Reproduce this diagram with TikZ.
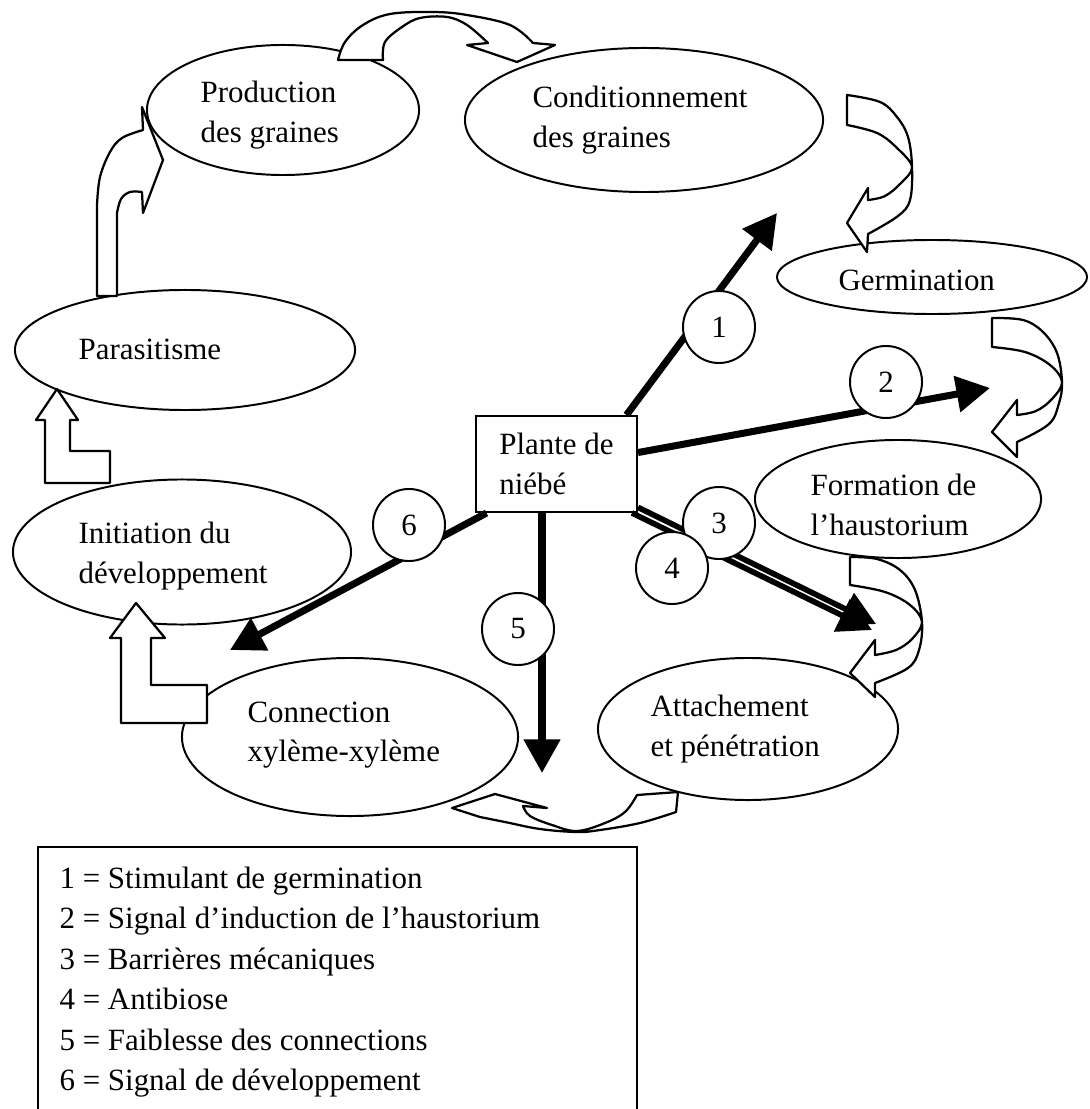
\documentclass[tikz,border=0pt]{standalone}
\usepackage{fontspec}
\setmainfont{Liberation Serif}
\usetikzlibrary{arrows.meta,shapes.geometric}

\tikzset{
  stage/.style={draw,ellipse,line width=0.7pt,inner sep=0pt},
  stagetxt/.style={anchor=west,align=left,inner sep=0pt,font=\fontsize{11}{14}\selectfont},
  numcirc/.style={draw,circle,fill=white,line width=0.7pt,minimum size=0.9cm,inner sep=0pt,font=\fontsize{11}{14}\selectfont},
  signal/.style={-{Triangle[length=0.42cm,width=0.44cm]},line width=2.5pt},
  cyclearrow/.style={draw,fill=white,line width=0.8pt,line join=round}
}

\begin{document}
\begin{tikzpicture}[x=0.0125cm,y=-0.0125cm]
  \useasboundingbox (0,0) rectangle (1089,1109);

  % stages of the life cycle
  \node[stage,minimum width=3.4cm,minimum height=1.625cm] (prod) at (283,110) {};
  \node[stage,minimum width=4.475cm,minimum height=1.8cm] (cond) at (644,120) {};
  \node[stage,minimum width=3.875cm,minimum height=0.925cm] (germ) at (932,277) {};
  \node[stage,minimum width=3.575cm,minimum height=1.475cm] (form) at (898,499) {};
  \node[stage,minimum width=3.75cm,minimum height=1.775cm] (att) at (748,729) {};
  \node[stage,minimum width=4.2cm,minimum height=1.975cm] (conn) at (350,737) {};
  \node[stage,minimum width=4.225cm,minimum height=1.8125cm] (init) at (182,552) {};
  \node[stage,minimum width=4.25cm,minimum height=1.5cm] (para) at (185,350) {};

  \node[stagetxt] (prodtxt) at (200,115) {Production\\des graines};
  \node[stagetxt] (condtxt) at (532,120) {Conditionnement\\des graines};
  \node[stagetxt] (germtxt) at (838,280) {Germination};
  \node[stagetxt] (formtxt) at (810,505) {Formation de\\l’haustorium};
  \node[stagetxt] (atttxt) at (650,729) {Attachement\\et pénétration};
  \node[stagetxt] (conntxt) at (247,735) {Connection\\xylème-xylème};
  \node[stagetxt] (inittxt) at (78,556) {Initiation du\\développement};
  \node[stagetxt] (paratxt) at (78,349) {Parasitisme};

  % cowpea plant and its signals
  \node[draw,line width=0.7pt,minimum width=2.0125cm,minimum height=1.2cm,align=left,
        font=\fontsize{11}{14}\selectfont] (plant) at (556.5,464) {Plante de\\niébé};
  \coordinate (t1) at (777,213);
  \coordinate (t2) at (990,388);
  \coordinate (t3) at (876,624);
  \coordinate (t4) at (872,630);
  \coordinate (t5) at (542,773);
  \coordinate (t6) at (230,650);
  \draw[signal] (plant.35) -- (t1);
  \draw[signal] (plant.8) -- (t2);
  \draw[signal,line width=2pt] (plant.-28) -- (t3);
  \draw[signal,line width=2pt] (plant.-33) -- (t4);
  \draw[signal] (plant.south -| t5) -- (t5);
  \draw[signal] (plant.215) -- (t6);

  \node[numcirc] (n1) at (719,327) {1};
  \node[numcirc] (n2) at (886,382) {2};
  \node[numcirc] (n3) at (719,523) {3};
  \node[numcirc] (n4) at (672,568) {4};
  \node[numcirc] (n5) at (518,629) {5};
  \node[numcirc] (n6) at (409,525) {6};

  % block arrows of the cycle
  \draw[cyclearrow] plot[smooth,tension=0.6] coordinates {(338,60) (345,42) (363,25) (390,14) (433,12) (467,15) (510,25) (533,43)}
    -- (555,45) -- (517,62) -- (467,45) -- (488,43)
    -- plot[smooth,tension=0.6] coordinates {(488,43) (467,25) (447,17) (420,18) (402,27) (385,42) (383,60)} -- cycle;
  \draw[cyclearrow] plot[smooth,tension=0.6] coordinates {(847,95) (880,102) (897,117) (908,137) (912,167) (910,200) (898,216) (868,234)}
    -- (867,252) -- (847,223) -- (868,188) -- (868,200)
    -- plot[smooth,tension=0.6] coordinates {(868,200) (885,196) (901,183) (912,167) (897,148) (877,133) (847,125)} -- cycle;
  \draw[cyclearrow] plot[smooth,tension=0.6] coordinates {(992,318) (1023,320) (1043,332) (1057,353) (1062,382) (1059,403) (1049,424) (1017,442)}
    -- (1017,457) -- (992,432) -- (1017,400) -- (1017,415)
    -- plot[smooth,tension=0.6] coordinates {(1017,415) (1036,411) (1052,399) (1062,382) (1050,365) (1025,352) (992,347)} -- cycle;
  \draw[cyclearrow] plot[smooth,tension=0.6] coordinates {(850,557) (877,559) (900,570) (915,590) (922,622) (919,650) (908,668) (875,683)}
    -- (875,697) -- (850,673) -- (875,640) -- (875,655)
    -- plot[smooth,tension=0.6] coordinates {(875,655) (896,650) (912,639) (922,622) (910,605) (885,592) (850,585)} -- cycle;
  \draw[cyclearrow] (637,795) -- (678,792) -- (676,812)
    -- plot[smooth,tension=0.6] coordinates {(676,812) (640,823) (600,830) (577,832) (540,829) (505,822) (480,817)}
    -- (452,808) -- (495,794) -- (547,808) -- (523,806)
    -- plot[smooth,tension=0.6] coordinates {(523,806) (530,816) (552,825) (577,831) (605,823) (625,812) (637,795)} -- cycle;
  \draw[cyclearrow] (121,723) -- (121,638) -- (110,638) -- (136,603) -- (165,638) -- (151,638)
    -- (151,685) -- (207,685) -- (207,723) -- cycle;
  \draw[cyclearrow] (45,483) -- (45,420) -- (36,420) -- (57,389) -- (78,420) -- (70,420)
    -- (70,451) -- (110,451) -- (110,483) -- cycle;
  \draw[cyclearrow] (97,296) -- (97,205)
    -- plot[smooth,tension=0.6] coordinates {(97,205) (100,177) (110,152) (122,138) (143,130)}
    -- (142,107) -- (163,160) -- (143,213) -- (142,192)
    -- plot[smooth,tension=0.6] coordinates {(142,192) (130,192) (121,199) (117,213)} -- (117,296) -- cycle;

  % legend
  \draw[line width=0.7pt] (38,1109) -- (38,847) -- (637,847) -- (637,1109);
  \node[anchor=west,align=left,inner sep=0pt,font=\fontsize{11}{14.4}\selectfont] (legend) at (59,982)
    {1 = Stimulant de germination\\
     2 = Signal d’induction de l’haustorium\\
     3 = Barrières mécaniques\\
     4 = Antibiose\\
     5 = Faiblesse des connections\\
     6 = Signal de développement};
\end{tikzpicture}
\end{document}
